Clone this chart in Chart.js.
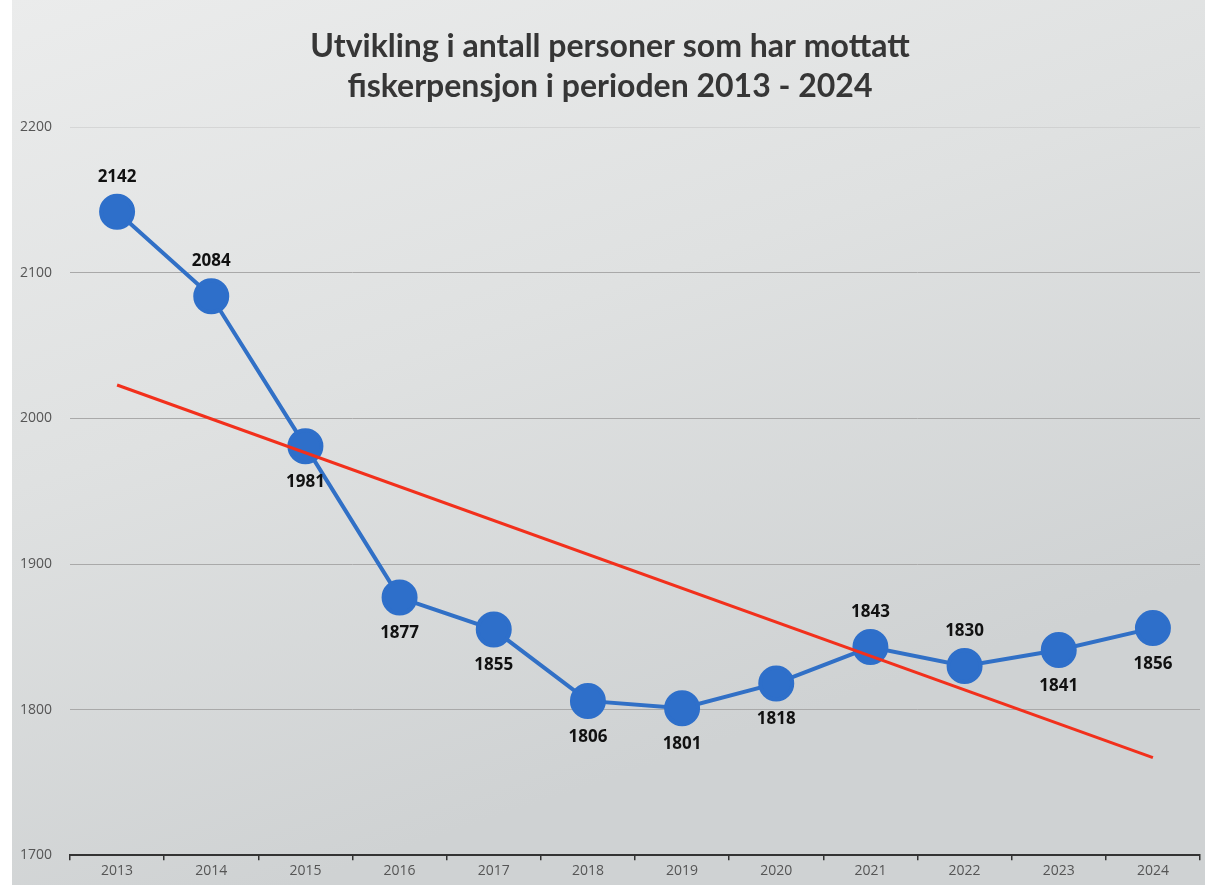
<!DOCTYPE html>
<html>
<head>
<meta charset="utf-8">
<script src="https://cdn.jsdelivr.net/npm/chart.js@4.4.1/dist/chart.umd.min.js"></script>
<style>
  html, body { margin: 0; padding: 0; background: #ffffff; overflow: hidden; }
  #wrap { width: 1205px; height: 885px; position: relative; }
</style>
</head>
<body>
<div id="wrap"><canvas id="c" width="1205" height="885"></canvas></div>
<script>
// ---- data ----
const years = ['2013','2014','2015','2016','2017','2018','2019','2020','2021','2022','2023','2024'];
const persons = [2142, 2084, 1981, 1877, 1855, 1806, 1801, 1818, 1843, 1830, 1841, 1856];
// trend line: start (2013) and end (2024) values only
const trend = [2023, null, null, null, null, null, null, null, null, null, null, 1767];
const titleLines = ['Utvikling i antall personer som har mottatt', 'fiskerpensjon i perioden 2013 - 2024'];
const yMin = 1700, yMax = 2200, yStep = 100;

// label placement (style): above / below point
const labelAbove = [true, true, false, false, false, false, false, false, true, true, false, false];

const bgPlugin = {
  id: 'bg',
  beforeDraw(chart) {
    const ctx = chart.ctx;
    ctx.save();
    const g = ctx.createLinearGradient(0, 0, 300, chart.height);
    g.addColorStop(0, '#ebecec');
    g.addColorStop(0.5, '#dfe1e1');
    g.addColorStop(1, '#cfd2d3');
    ctx.fillStyle = '#ffffff';
    ctx.fillRect(0, 0, chart.width, chart.height);
    ctx.fillStyle = g;
    ctx.fillRect(12, 0, chart.width - 12, chart.height);
    ctx.restore();
  }
};

const labelPlugin = {
  id: 'pointLabels',
  afterDatasetsDraw(chart) {
    const ctx = chart.ctx;
    const meta = chart.getDatasetMeta(0);
    ctx.save();
    ctx.font = 'bold 17px "Open Sans", Lato, sans-serif';
    ctx.fillStyle = '#111111';
    ctx.textAlign = 'center';
    ctx.textBaseline = 'middle';
    meta.data.forEach((pt, i) => {
      const dy = labelAbove[i] ? -35 : 36;
      ctx.fillText(String(persons[i]), pt.x, pt.y + dy);
    });
    ctx.restore();
  }
};

new Chart(document.getElementById('c'), {
  type: 'line',
  data: {
    labels: years,
    datasets: [
      {
        label: 'Personer',
        data: persons,
        borderColor: '#3170c6',
        backgroundColor: '#2e6fca',
        pointBackgroundColor: '#2e6fca',
        pointBorderColor: '#2e6fca',
        borderWidth: 4,
        pointRadius: 16,
        pointHoverRadius: 16,
        tension: 0,
        order: 2
      },
      {
        label: 'Trend',
        data: trend,
        borderColor: '#f2301c',
        borderWidth: 3,
        pointRadius: 0,
        spanGaps: true,
        tension: 0,
        order: 1
      }
    ]
  },
  options: {
    responsive: false,
    animation: false,
    events: [],
    layout: { autoPadding: false, padding: { left: 20, right: 5, top: 0, bottom: 4 } },
    plugins: {
      legend: { display: false },
      tooltip: { enabled: false },
      title: {
        display: true,
        text: titleLines,
        color: '#363636',
        font: { family: 'Lato, "Open Sans", sans-serif', size: 32, weight: 'bold', lineHeight: 1.24 },
        padding: { top: 27, bottom: 21 }
      }
    },
    scales: {
      x: {
        offset: true,
        grid: {
          display: true,
          offset: true,
          drawOnChartArea: false,
          drawTicks: true,
          tickLength: 5,
          color: '#333333',
          lineWidth: 1.5
        },
        border: { display: true, color: '#333333', width: 2 },
        ticks: {
          color: '#555555',
          font: { family: '"Open Sans", Lato, sans-serif', size: 14 },
          padding: 2,
          maxRotation: 0
        }
      },
      y: {
        min: yMin,
        max: yMax,
        afterFit(scale) { scale.width = 50; },
        grid: {
          color: (c) => c.tick && c.tick.value === yMax ? 'rgba(180,180,180,0.35)' : '#a9a9a9',
          lineWidth: 1,
          drawTicks: false
        },
        border: { display: false },
        ticks: {
          stepSize: yStep,
          color: '#555555',
          crossAlign: 'far',
          font: { family: '"Open Sans", Lato, sans-serif', size: 14 },
          padding: 0,
          callback: (v) => String(v)
        }
      }
    }
  },
  plugins: [bgPlugin, labelPlugin]
});
</script>
</body>
</html>
